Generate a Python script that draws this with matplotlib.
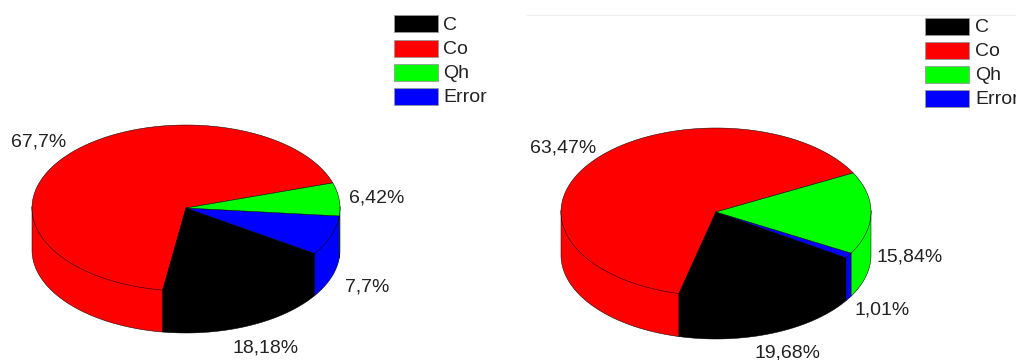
import numpy as np
import matplotlib
matplotlib.use("Agg")
import matplotlib.pyplot as plt
from matplotlib.patches import Polygon, Rectangle

plt.rcParams["font.family"] = ["Liberation Sans", "DejaVu Sans"]

LEGEND_NAMES = ["C", "Co", "Qh", "Error"]
COLORS = {"C": "#000000", "Co": "#ff0000", "Qh": "#00ff00", "Error": "#0000ff"}

# slices in counter-clockwise drawing order
SLICE_ORDER = ["Co", "C", "Error", "Qh"]
LEFT_VALUES = [67.7, 18.18, 7.7, 6.42]
LEFT_LABELS = ["67,7%", "18,18%", "7,7%", "6,42%"]
RIGHT_VALUES = [63.47, 19.68, 1.01, 15.84]
RIGHT_LABELS = ["63,47%", "19,68%", "1,01%", "15,84%"]

FONT_SIZE = 14
TEXT_COLOR = "#222222"
EDGE_WIDTH = 0.35


def arc(cx, cy, rx, ry, start, end):
    t = np.radians(np.linspace(start, end, max(int(abs(end - start)) * 2, 2)))
    return np.column_stack([cx + rx * np.cos(t), cy - ry * np.sin(t)])


def draw_pie(ax, values, labels, label_pos, cx, cy, rx, ry, depth, start_angle):
    angles = start_angle + np.concatenate([[0], np.cumsum(values)]) * 3.6

    # side wall first, only the front half of the rim is visible
    for i, name in enumerate(SLICE_ORDER):
        for shift in (0, 360, -360):
            a0 = max(angles[i] + shift, 180)
            a1 = min(angles[i + 1] + shift, 360)
            if a1 <= a0:
                continue
            rim = arc(cx, cy, rx, ry, a0, a1)
            # wall starts a bit under the top face so no seam shows through
            wall = np.vstack([rim - [0, 1.5], (rim + [0, depth])[::-1]])
            ax.add_patch(Polygon(wall, closed=True, facecolor=COLORS[name],
                                 edgecolor="black", linewidth=EDGE_WIDTH))

    # top face
    for i, name in enumerate(SLICE_ORDER):
        top = np.vstack([[cx, cy], arc(cx, cy, rx, ry, angles[i], angles[i + 1])])
        ax.add_patch(Polygon(top, closed=True, facecolor=COLORS[name],
                             edgecolor="black", linewidth=EDGE_WIDTH))

    for text, (x, y) in zip(labels, label_pos):
        ax.text(x, y, text, fontsize=FONT_SIZE, color=TEXT_COLOR, ha="left", va="center")


def draw_legend(ax, x, y_list):
    for name, y in zip(LEGEND_NAMES, y_list):
        ax.add_patch(Rectangle((x, y), 44, 17, facecolor=COLORS[name],
                               edgecolor="#999999", linewidth=0.6))
        ax.text(x + 50, y + 10, name, fontsize=FONT_SIZE, color=TEXT_COLOR,
                ha="left", va="center", clip_on=True)


fig = plt.figure(figsize=(10.16, 3.6), dpi=100)
ax = fig.add_axes([0, 0, 1, 1])
ax.set_xlim(0, 1016)
ax.set_ylim(360, 0)
ax.axis("off")

draw_pie(ax, LEFT_VALUES, LEFT_LABELS,
         [(11, 142), (232, 348), (345, 287), (349, 198)],
         cx=186, cy=208, rx=154, ry=83, depth=42, start_angle=17.6)
draw_pie(ax, RIGHT_VALUES, RIGHT_LABELS,
         [(530, 148), (754, 353), (854, 310), (877, 257)],
         cx=716, cy=212, rx=155, ry=84, depth=43, start_angle=27.7)

draw_legend(ax, 393.5, [15, 39.5, 64, 88])
draw_legend(ax, 925, [17.5, 42, 66, 90])

# thin rule above the right panel
ax.plot([527, 1016], [15, 15], color="#eeeeee", linewidth=0.8)

fig.savefig("out.png", dpi=100)
